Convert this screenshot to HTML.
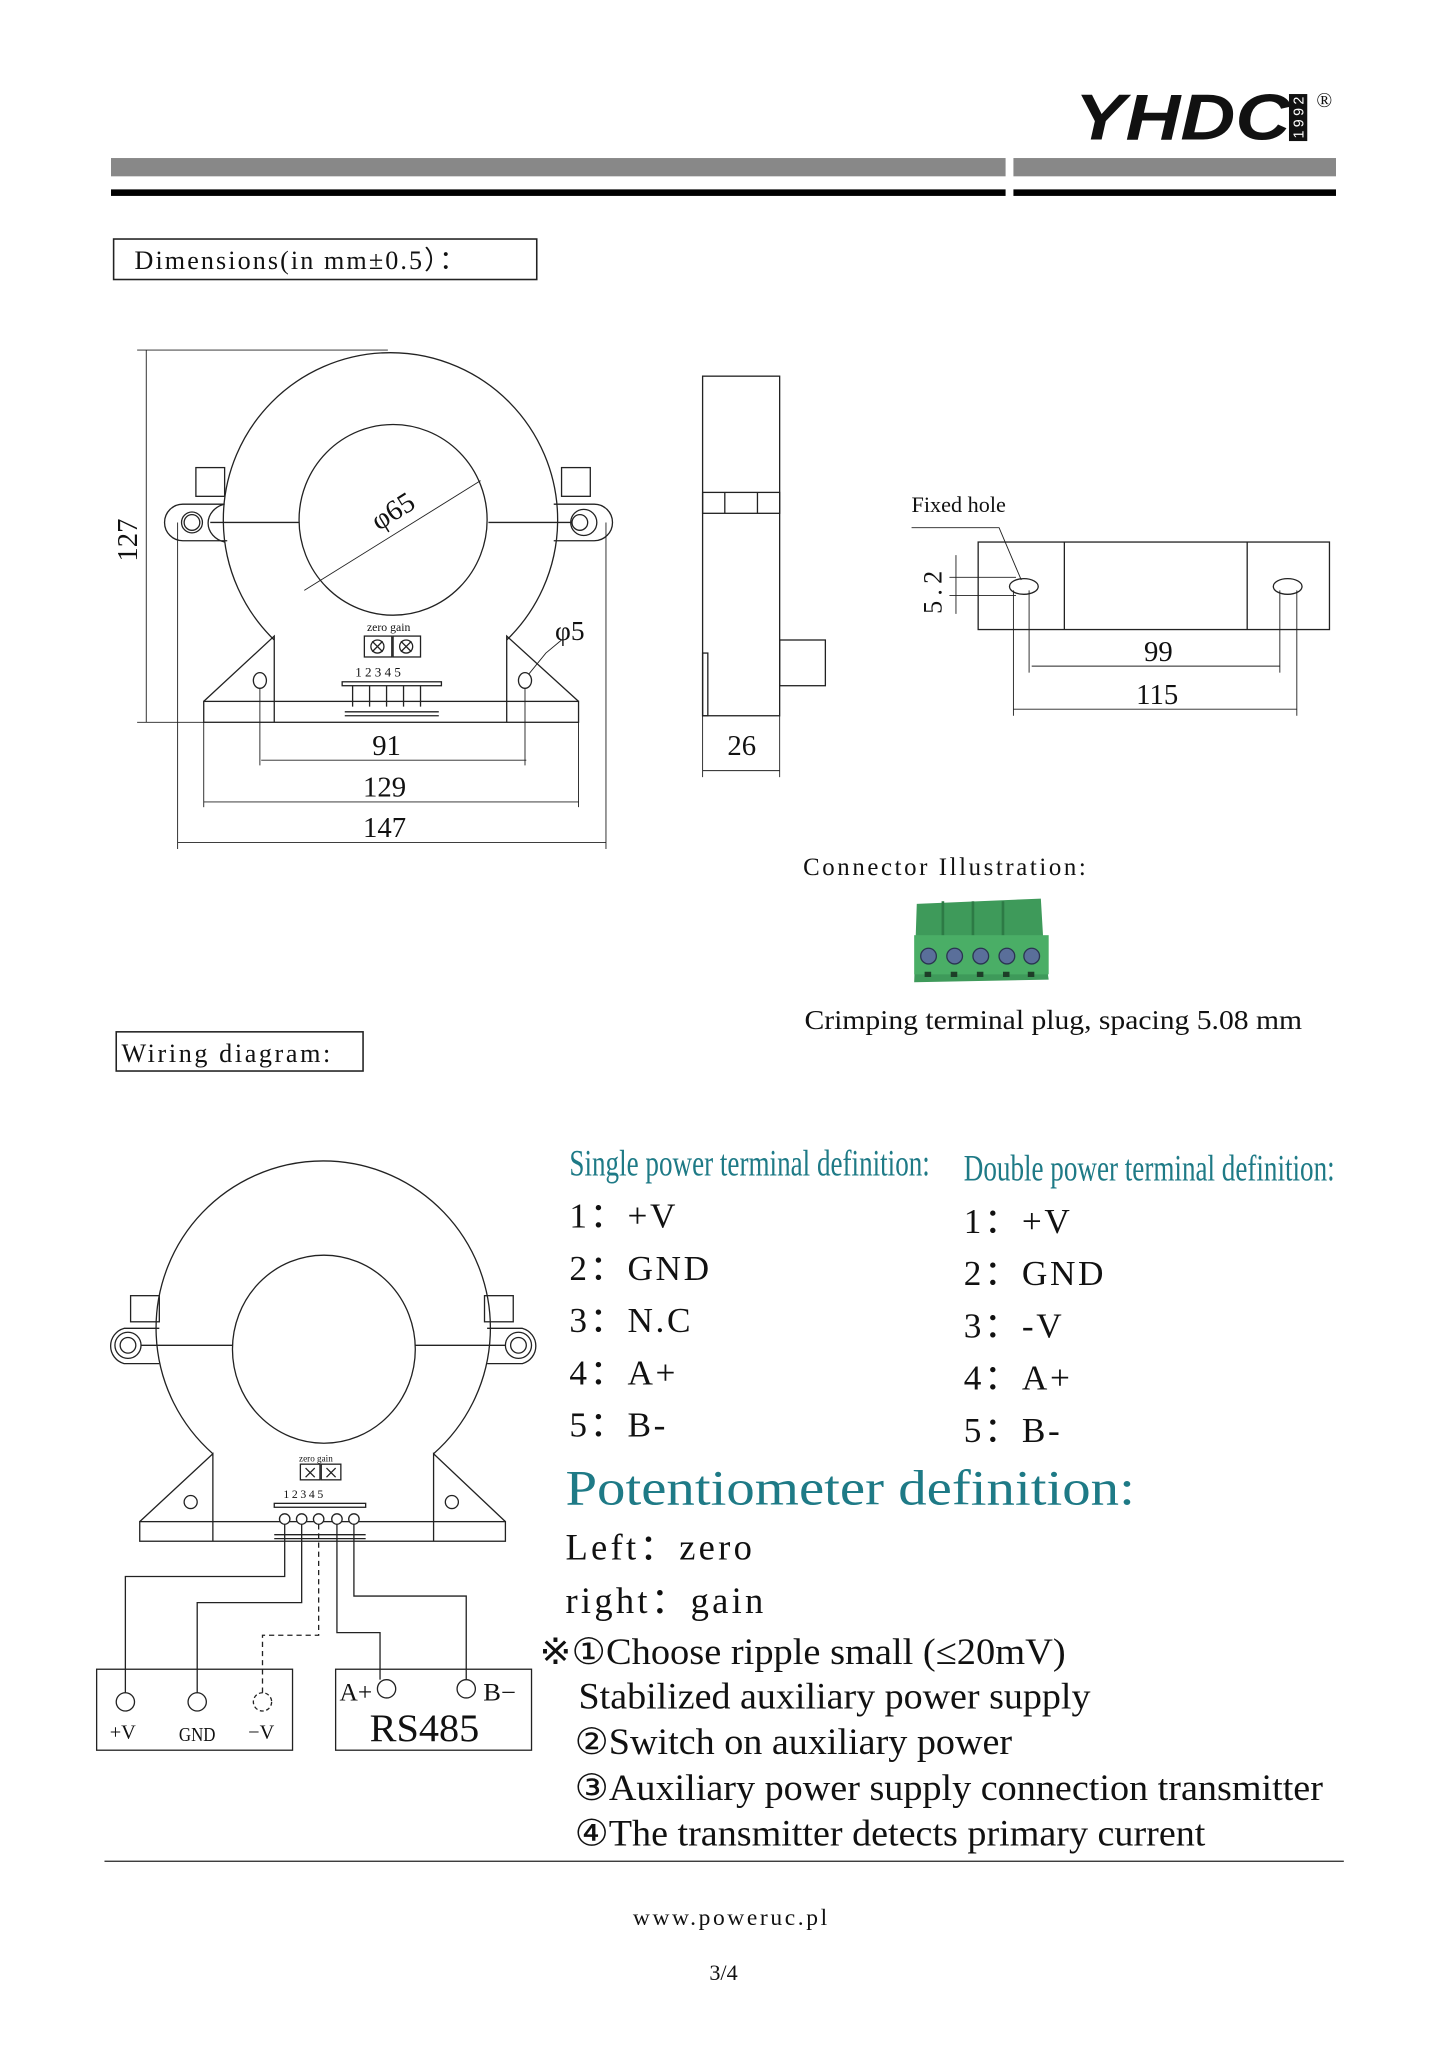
<!DOCTYPE html>
<html><head><meta charset="utf-8"><style>
html,body{margin:0;padding:0;background:#fff}
svg{display:block}
text{font-family:"Liberation Serif",serif;fill:#111}
</style></head><body>
<svg width="1447" height="2048" viewBox="0 0 1108 1568" preserveAspectRatio="none" xmlns="http://www.w3.org/2000/svg">
<!-- logo -->
<text x="823" y="107" font-family="Liberation Sans" font-weight="bold" font-style="italic" font-size="50" textLength="165" lengthAdjust="spacingAndGlyphs" style="font-family:'Liberation Sans',sans-serif">YHDC</text>
<rect x="987" y="72" width="14" height="36" fill="#111"/>
<text x="0" y="0" transform="translate(998,106) rotate(-90)" font-size="11" style="font-family:'Liberation Sans',sans-serif;fill:#fff" textLength="32">1992</text>
<text x="1008" y="82" font-size="16">®</text>
<rect x="85" y="121" width="685" height="14" fill="#888"/>
<rect x="776" y="121" width="247" height="14" fill="#888"/>
<rect x="85" y="145" width="685" height="5" fill="#000"/>
<rect x="776" y="145" width="247" height="5" fill="#000"/>

<rect x="87" y="183" width="324" height="31" fill="none" stroke="#222" stroke-width="1.2"/>
<text x="103" y="206" font-size="20" letter-spacing="1.6">Dimensions(in mm±0.5）：</text>

<g fill="none" stroke="#222" stroke-width="1">
<!-- front view -->
<path d="M210,490 A128,128 0 1 1 388,490"/>
<path d="M156,537 L210,487 L210,553 M388,553 L388,487 L443,537"/>
<rect x="156" y="537" width="287" height="16"/>
<ellipse cx="301" cy="398" rx="72" ry="73"/>
<path d="M172,386 A17,15 0 0 0 172,415 M172,386 L140,386 A14,14 0 0 0 140,414 L174,414"/>
<circle cx="147" cy="400" r="8"/><circle cx="147" cy="400" r="6"/>
<path d="M424,386 L455,386 A14,14 0 0 1 455,414 L424,414"/>
<circle cx="447" cy="400" r="10"/><circle cx="444" cy="400" r="6"/>
<rect x="150" y="358" width="22" height="22"/><rect x="430" y="358" width="22" height="22"/>
<line x1="161" y1="400" x2="229" y2="400"/><line x1="374" y1="400" x2="438" y2="400"/>
<ellipse cx="199" cy="521" rx="5" ry="6"/><ellipse cx="402" cy="521" rx="5" ry="6"/>
<line x1="233" y1="452" x2="368" y2="368" stroke-width=".7"/>
<rect x="279" y="487" width="21" height="16"/><rect x="301" y="487" width="21" height="16"/>
<circle cx="289" cy="495" r="5"/><circle cx="311" cy="495" r="5"/>
<path d="M285,491 l8,8 M293,491 l-8,8 M307,491 l8,8 M315,491 l-8,8"/>
<rect x="262" y="522" width="76" height="3"/>
<path d="M270,525v16 M283,525v16 M296,525v16 M309,525v16 M322,525v16"/>
<path d="M264,545 h72 M264,548 h72"/>
<!-- dims -->
<g stroke-width=".7">
<line x1="105" y1="268" x2="297" y2="268"/><line x1="105" y1="553" x2="156" y2="553"/>
<line x1="112" y1="268" x2="112" y2="553"/>
<line x1="199" y1="527" x2="199" y2="586"/><line x1="402" y1="527" x2="402" y2="586"/>
<line x1="200" y1="582" x2="403" y2="582"/>
<line x1="156" y1="553" x2="156" y2="618"/><line x1="443" y1="553" x2="443" y2="618"/>
<line x1="156" y1="614" x2="443" y2="614"/>
<line x1="136" y1="400" x2="136" y2="650"/><line x1="464" y1="400" x2="464" y2="650"/>
<line x1="136" y1="645" x2="464" y2="645"/>
<path d="M430,490 L418,500 L405,516"/>
</g>
<!-- side view -->
<rect x="538" y="288" width="59" height="260"/>
<rect x="538" y="377" width="59" height="16"/>
<line x1="555" y1="377" x2="555" y2="393"/><line x1="580" y1="377" x2="580" y2="393"/>
<rect x="597" y="490" width="35" height="35"/>
<rect x="538" y="500" width="4" height="48"/>
<g stroke-width=".7">
<line x1="538" y1="548" x2="538" y2="595"/><line x1="597" y1="548" x2="597" y2="595"/>
<line x1="538" y1="590" x2="597" y2="590"/>
</g>
<!-- top view -->
<rect x="749" y="415" width="269" height="67"/>
<line x1="815" y1="415" x2="815" y2="482"/><line x1="955" y1="415" x2="955" y2="482"/>
<ellipse cx="784" cy="449" rx="11" ry="6"/><ellipse cx="986" cy="449" rx="11" ry="6"/>
<g stroke-width=".7">
<path d="M698,404 L765,404 L782,444"/>
<line x1="727" y1="442" x2="778" y2="442"/><line x1="727" y1="456" x2="778" y2="456"/>
<line x1="732" y1="425" x2="732" y2="470"/>
<line x1="788" y1="452" x2="788" y2="515"/><line x1="980" y1="452" x2="980" y2="515"/>
<line x1="790" y1="510" x2="980" y2="510"/>
<line x1="776" y1="452" x2="776" y2="548"/><line x1="993" y1="452" x2="993" y2="548"/>
<line x1="776" y1="543" x2="993" y2="543"/>
</g>
</g>
<text x="280" y="398" font-size="22" transform="rotate(-32 300 385)">φ65</text>
<text x="425" y="490" font-size="21">φ5</text>
<text x="281" y="483" font-size="9">zero gain</text>
<text x="272" y="518" font-size="10" letter-spacing="2.5">12345</text>
<text transform="translate(105,430) rotate(-90)" font-size="22">127</text>
<text x="285" y="578" font-size="22">91</text>
<text x="278" y="610" font-size="22">129</text>
<text x="278" y="641" font-size="22">147</text>
<text x="557" y="578" font-size="22">26</text>
<text x="698" y="392" font-size="17">Fixed hole</text>
<text transform="translate(721,470) rotate(-90)" font-size="20" letter-spacing="4">5.2</text>
<text x="876" y="506" font-size="22">99</text>
<text x="870" y="539" font-size="22">115</text>

<text x="615" y="670" font-size="19" letter-spacing="2">Connector Illustration:</text>
<!-- green connector -->
<g>
<path d="M702,692 L797,688 L799,722 L803,750 L700,752 Z" fill="#3e9a5a"/>
<rect x="700" y="716" width="103" height="30" fill="#4aae66"/>
<path d="M722,690v26 M745,690v26 M768,690v26" stroke="#2d7a45" stroke-width="2"/>
<g fill="#5a6f9a" stroke="#2a3550"><circle cx="711" cy="732" r="6"/><circle cx="731" cy="732" r="6"/><circle cx="751" cy="732" r="6"/><circle cx="771" cy="732" r="6"/><circle cx="790" cy="732" r="6"/></g>
<g fill="#1d3d27"><rect x="708" y="744" width="5" height="4"/><rect x="728" y="744" width="5" height="4"/><rect x="748" y="744" width="5" height="4"/><rect x="768" y="744" width="5" height="4"/><rect x="787" y="744" width="5" height="4"/></g>
</g>
<text x="616" y="788" font-size="21" textLength="381" lengthAdjust="spacingAndGlyphs">Crimping terminal plug, spacing  5.08 mm</text>

<rect x="89" y="790" width="189" height="30" fill="none" stroke="#222" stroke-width="1.2"/>
<text x="93" y="813" font-size="20" letter-spacing="2">Wiring diagram:</text>

<!-- wiring front view -->
<g fill="none" stroke="#222" stroke-width="1">
<path d="M163,1113 A128,128 0 1 1 332,1113"/>
<path d="M107,1165 L163,1113 L163,1180 M332,1180 L332,1113 L387,1165"/>
<rect x="107" y="1165" width="280" height="15"/>
<ellipse cx="248" cy="1033" rx="70" ry="72"/>
<path d="M122,1017 L95,1017 A14,14 0 0 0 95,1044 L122,1044"/>
<circle cx="98" cy="1030" r="10"/><circle cx="98" cy="1030" r="6"/>
<path d="M373,1017 L400,1017 A14,14 0 0 1 400,1044 L373,1044"/>
<circle cx="397" cy="1030" r="10"/><circle cx="397" cy="1030" r="6"/>
<rect x="100" y="992" width="22" height="20"/><rect x="371" y="992" width="22" height="20"/>
<line x1="108" y1="1030" x2="178" y2="1030"/><line x1="318" y1="1030" x2="387" y2="1030"/>
<circle cx="146" cy="1150" r="5"/><circle cx="346" cy="1150" r="5"/>
<rect x="230" y="1121" width="15" height="12"/><rect x="246" y="1121" width="15" height="12"/>
<path d="M234,1124 l7,7 M241,1124 l-7,7 M250,1124 l7,7 M257,1124 l-7,7"/>
<rect x="210" y="1151" width="70" height="3"/>
<g fill="#fff"><circle cx="218" cy="1163" r="4"/><circle cx="231" cy="1163" r="4"/><circle cx="244" cy="1163" r="4"/><circle cx="258" cy="1163" r="4"/><circle cx="271" cy="1163" r="4"/></g>
<path d="M210,1175 h70 M210,1178 h70"/>
<path d="M218,1167 V1207 H96 V1296"/>
<path d="M231,1167 V1227 H151 V1296"/>
<path d="M244,1167 V1252 H201 V1296" stroke-dasharray="4,3"/>
<path d="M258,1167 V1250 H291 V1286"/>
<path d="M271,1167 V1222 H357 V1286"/>
<rect x="74" y="1278" width="150" height="62"/>
<rect x="257" y="1278" width="150" height="62"/>
<circle cx="96" cy="1303" r="7"/><circle cx="151" cy="1303" r="7"/><circle cx="201" cy="1303" r="7" stroke-dasharray="3,2"/>
<circle cx="296" cy="1293" r="7"/><circle cx="357" cy="1293" r="7"/>
</g>
<text x="229" y="1119" font-size="7">zero gain</text>
<text x="217" y="1147" font-size="9" letter-spacing="2">12345</text>
<text x="84" y="1331" font-size="15" textLength="20" lengthAdjust="spacingAndGlyphs">+V</text>
<text x="137" y="1333" font-size="15" textLength="28" lengthAdjust="spacingAndGlyphs">GND</text>
<text x="190" y="1331" font-size="15" textLength="20" lengthAdjust="spacingAndGlyphs">−V</text>
<text x="260" y="1302" font-size="19" textLength="25" lengthAdjust="spacingAndGlyphs">A+</text>
<text x="370" y="1302" font-size="19" textLength="25" lengthAdjust="spacingAndGlyphs">B−</text>
<text x="283" y="1333" font-size="30" textLength="84" lengthAdjust="spacingAndGlyphs">RS485</text>

<!-- right texts -->
<g style="fill:#1e7a86">
<text x="436" y="900" font-size="28" textLength="276" lengthAdjust="spacingAndGlyphs" style="fill:#1e7a86">Single power terminal definition:</text>
<text x="738" y="904" font-size="28" textLength="284" lengthAdjust="spacingAndGlyphs" style="fill:#1e7a86">Double power terminal definition:</text>
<text x="433" y="1152" font-size="38" textLength="436" lengthAdjust="spacingAndGlyphs" style="fill:#1e7a86">Potentiometer definition:</text>
</g>
<g font-size="27" letter-spacing="2">
<text x="436" y="940">1：+V</text>
<text x="436" y="980">2：GND</text>
<text x="436" y="1020">3：N.C</text>
<text x="436" y="1060">4：A+</text>
<text x="436" y="1100">5：B-</text>
<text x="738" y="944">1：+V</text>
<text x="738" y="984">2：GND</text>
<text x="738" y="1024">3：-V</text>
<text x="738" y="1064">4：A+</text>
<text x="738" y="1104">5：B-</text>
</g>
<text x="433" y="1194" font-size="28" letter-spacing="2.5">Left：zero</text>
<text x="433" y="1235" font-size="28" letter-spacing="2.5">right：gain</text>
<g font-size="28">
<text x="413" y="1274" textLength="403" lengthAdjust="spacingAndGlyphs">※①Choose ripple small (≤20mV)</text>
<text x="443" y="1308" textLength="392" lengthAdjust="spacingAndGlyphs">Stabilized auxiliary power supply</text>
<text x="440" y="1343" textLength="335" lengthAdjust="spacingAndGlyphs">②Switch on auxiliary power</text>
<text x="440" y="1378" textLength="573" lengthAdjust="spacingAndGlyphs">③Auxiliary power supply connection transmitter</text>
<text x="440" y="1413" textLength="483" lengthAdjust="spacingAndGlyphs">④The transmitter detects primary current</text>
</g>
<line x1="80" y1="1425" x2="1029" y2="1425" stroke="#222" stroke-width="1"/>
<text x="560" y="1474" font-size="18" letter-spacing="2" text-anchor="middle">www.poweruc.pl</text>
<text x="554" y="1516" font-size="17" text-anchor="middle">3/4</text>
</svg>
</body></html>
